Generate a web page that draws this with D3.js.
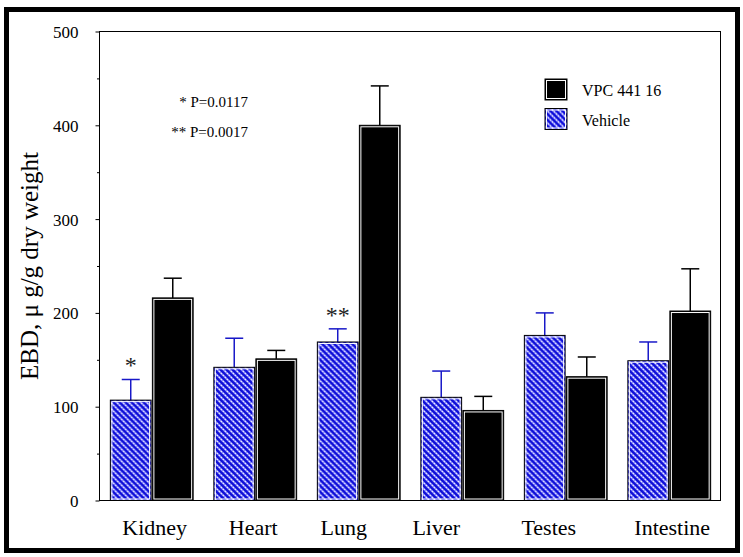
<!DOCTYPE html>
<html><head><meta charset="utf-8">
<script src="https://cdn.jsdelivr.net/npm/d3@7"></script>
<style>body{margin:0;background:#fff}svg{display:block}text{font-family:"Liberation Serif","Times New Roman",serif}</style>
</head><body>
<svg id="c" width="743" height="557"></svg>
<script>
const categories = ["Kidney","Heart","Lung","Liver","Testes","Intestine"];
const seriesNames = ["Vehicle","VPC 441 16"];
const vehicleValues = [107, 142, 169, 110, 176, 149];
const vehicleErrors = [22, 31, 14, 28, 24, 20];
const vpcValues = [216, 151, 400, 96, 132, 202];
const vpcErrors = [21, 9, 42, 15, 21, 45];
const yTicks = [0, 100, 200, 300, 400, 500];
const yMinorTicks = [50, 150, 250, 350, 450];
const significance = [{cat:"Kidney", mark:"*"}, {cat:"Lung", mark:"**"}];
const pNotes = ["* P=0.0117", "** P=0.0017"];
const yTitle = "EBD, \u03bc g/g dry weight";

// layout constants
const L = 99.5, R = 720.5, T = 31.5, B = 500.5;
const labelShift = [3, -2, -15, -26, -17, 3];
const BLUE = "#1010d8";

const svg = d3.select("#c");
const defs = svg.append("defs");
const pat = defs.append("pattern").attr("id","hatch").attr("patternUnits","userSpaceOnUse")
  .attr("width",6).attr("height",6);
pat.append("rect").attr("width",6).attr("height",6).attr("fill",BLUE);
pat.append("path").attr("d","M-1,-1 L7,7 M-1,5 L1,7 M5,-1 L7,1")
  .attr("stroke","#9090ff").attr("stroke-width",1.6);
pat.append("path").attr("d","M-1,-1 L7,7 M-1,5 L1,7 M5,-1 L7,1")
  .attr("stroke","#ffffff").attr("stroke-width",1.2).attr("stroke-dasharray","1.4 1.4");

// outer frame
svg.append("rect").attr("x",6.5).attr("y",9.5).attr("width",731).attr("height",541)
  .attr("fill","none").attr("stroke","#000").attr("stroke-width",5);

const x0 = d3.scaleBand().domain(categories).range([100, 721]).paddingInner(0.2).paddingOuter(0.1);
const x1 = d3.scaleBand().domain(seriesNames).range([0, x0.bandwidth()]).paddingInner(0.03);
const y = d3.scaleLinear().domain([0, 500]).range([B, T]);

// axes
const gy = svg.append("g").attr("transform",`translate(${L},0)`)
  .call(d3.axisLeft(y).tickValues(yTicks).tickSize(4).tickPadding(17).tickFormat(d3.format("d")));
gy.select(".domain").remove();
gy.selectAll("text").attr("font-size",17).attr("fill","#000").attr("dy","0.35em");
const gm = svg.append("g").attr("transform",`translate(${L},0)`)
  .call(d3.axisLeft(y).tickValues(yMinorTicks).tickSize(2.5).tickFormat(""));
gm.select(".domain").remove();

svg.append("rect").attr("x",L).attr("y",T).attr("width",R-L).attr("height",B-T)
  .attr("fill","none").attr("stroke","#000").attr("stroke-width",1);

// data rows
const rows = categories.map((c,i)=>({cat:c, i,
  bars:[{s:seriesNames[0], v:vehicleValues[i], e:vehicleErrors[i]},
        {s:seriesNames[1], v:vpcValues[i], e:vpcErrors[i]}]}));

const groups = svg.append("g").selectAll("g").data(rows).join("g")
  .attr("transform", d=>`translate(${x0(d.cat)},0)`);

const bw = x1.bandwidth();
groups.each(function(row){
  const g = d3.select(this);
  row.bars.forEach(b=>{
    const bx = x1(b.s), top = y(b.v), h = y(0) - top;
    const isVeh = b.s === "Vehicle";
    const cx = bx + bw/2, col = isVeh ? "#1818c8" : "#000";
    g.append("line").attr("x1",cx).attr("x2",cx).attr("y1",top).attr("y2",y(b.v+b.e))
      .attr("stroke",col).attr("stroke-width",1.5);
    g.append("line").attr("x1",cx-9).attr("x2",cx+9).attr("y1",y(b.v+b.e)).attr("y2",y(b.v+b.e))
      .attr("stroke",col).attr("stroke-width",1.5);
    g.append("rect").attr("x",bx).attr("y",top).attr("width",bw).attr("height",h)
      .attr("fill", isVeh ? "url(#hatch)" : "#000").attr("stroke","#000").attr("stroke-width",1);
    g.append("rect").attr("x",bx+1.5).attr("y",top+1.5).attr("width",bw-3).attr("height",h-3)
      .attr("fill","none").attr("stroke","#fff").attr("stroke-width",1);
  });
});

// significance marks
svg.append("g").selectAll("text").data(significance).join("text")
  .attr("x", d=>x0(d.cat)+x1("Vehicle")+bw/2)
  .attr("y", d=>{const i=categories.indexOf(d.cat); return y(vehicleValues[i]+vehicleErrors[i]) - 6;})
  .attr("text-anchor","middle").attr("font-size",24).attr("fill","#222")
  .text(d=>d.mark);

// p-value notes
svg.append("g").selectAll("text").data(pNotes).join("text")
  .attr("x",248).attr("y",(d,i)=>106.5+i*30).attr("text-anchor","end")
  .attr("font-size",15).attr("fill","#000").text(d=>d);

// category labels
svg.append("g").selectAll("text").data(categories).join("text")
  .attr("x",(d,i)=>x0(d)+x0.bandwidth()/2+labelShift[i]).attr("y",535)
  .attr("text-anchor","middle").attr("font-size",22).attr("fill","#000").text(d=>d);

// y title
svg.append("text").attr("transform","translate(38,266) rotate(-90)")
  .attr("text-anchor","middle").attr("font-size",25).attr("fill","#000").text(yTitle);

// legend
const legendItems = [seriesNames[1], seriesNames[0]];
const lg = svg.append("g").selectAll("g").data(legendItems).join("g")
  .attr("transform",(d,i)=>`translate(545,${79+i*29.5})`);
lg.append("rect").attr("width",22).attr("height",21)
  .attr("fill",d=>d==="Vehicle"?"url(#hatch)":"#000").attr("stroke","#000").attr("stroke-width",1);
lg.append("rect").attr("x",1.5).attr("y",1.5).attr("width",19).attr("height",18)
  .attr("fill","none").attr("stroke","#fff").attr("stroke-width",1);
lg.append("text").attr("x",37).attr("y",17).attr("font-size",16).attr("fill","#000").text(d=>d);
</script>
</body></html>
